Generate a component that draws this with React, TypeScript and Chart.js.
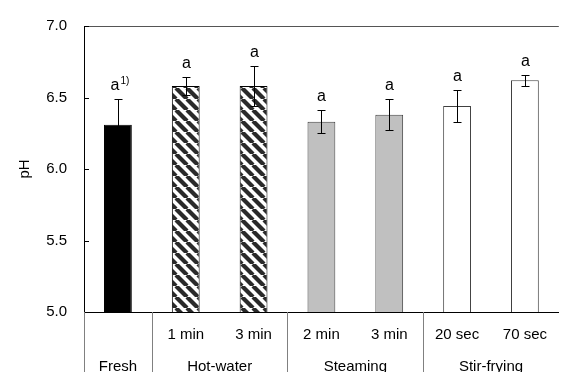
import React, { useEffect, useRef } from "react";
import { Chart, registerables } from "chart.js";

Chart.register(...registerables);

const subLabels = ["", "1 min", "3 min", "2 min", "3 min", "20 sec", "70 sec"];
const groupLabels = ["Fresh", "Hot-water", "Steaming", "Stir-frying"];
const groupStart = [0, 1, 3, 5];
const groupEnd = [0, 2, 4, 6];
const phMeans = [6.31, 6.58, 6.58, 6.33, 6.38, 6.44, 6.62];
const phSD = [0.18, 0.06, 0.14, 0.08, 0.11, 0.11, 0.04];
const letters = ["a", "a", "a", "a", "a", "a", "a"];
const superscripts = ["1)", "", "", "", "", "", ""];
const yTicks = [5.0, 5.5, 6.0, 6.5, 7.0];

const FONT = '"Liberation Sans", Arial, sans-serif';

function makeHatch(): CanvasPattern | string {
  const n = 11;
  const c = document.createElement("canvas");
  c.width = n;
  c.height = n;
  const g = c.getContext("2d");
  if (!g) return "#888";
  g.fillStyle = "#fff";
  g.fillRect(0, 0, n, n);
  g.strokeStyle = "#2a2a2a";
  g.lineWidth = 4.2;
  for (const k of [-n, 0, n]) {
    g.beginPath();
    g.moveTo(k, 0);
    g.lineTo(k + n, n);
    g.stroke();
  }
  const p = g.createPattern(c, "repeat");
  return p || "#888";
}

export default function App() {
  const ref = useRef<HTMLCanvasElement | null>(null);

  useEffect(() => {
    const canvas = ref.current;
    if (!canvas) return;
    const hatch = makeHatch();

    const overlay = {
      id: "overlay",
      afterDatasetsDraw(chart: any) {
        const ctx = chart.ctx;
        const y = chart.scales.y;
        const meta = chart.getDatasetMeta(0);
        ctx.save();
        ctx.strokeStyle = "#000";
        ctx.lineWidth = 1;
        meta.data.forEach((bar: any, i: number) => {
          const x = Math.round(bar.x) + 0.5;
          const yt = Math.round(y.getPixelForValue(phMeans[i] + phSD[i])) + 0.5;
          const yb = Math.round(y.getPixelForValue(phMeans[i] - phSD[i])) + 0.5;
          ctx.beginPath();
          ctx.moveTo(x, yt);
          ctx.lineTo(x, yb);
          ctx.moveTo(x - 4, yt);
          ctx.lineTo(x + 4, yt);
          ctx.moveTo(x - 4, yb);
          ctx.lineTo(x + 4, yb);
          ctx.stroke();
          ctx.fillStyle = "#000";
          ctx.textBaseline = "alphabetic";
          ctx.font = `16px ${FONT}`;
          const by = yt - 10;
          if (superscripts[i]) {
            ctx.textAlign = "right";
            ctx.fillText(letters[i], x + 1, by);
            ctx.font = `10px ${FONT}`;
            ctx.textAlign = "left";
            ctx.fillText(superscripts[i], x + 2, by - 6);
          } else {
            ctx.textAlign = "center";
            ctx.fillText(letters[i], x, by);
          }
        });
        ctx.restore();
      },
      afterDraw(chart: any) {
        const ctx = chart.ctx;
        const area = chart.chartArea;
        const x = chart.scales.x;
        const y = chart.scales.y;
        const H = chart.height;
        ctx.save();
        ctx.strokeStyle = "#555";
        ctx.lineWidth = 1;
        ctx.beginPath();
        ctx.moveTo(Math.round(area.left), Math.round(area.top) + 0.5);
        ctx.lineTo(area.right, Math.round(area.top) + 0.5);
        ctx.stroke();
        ctx.strokeStyle = "#000";
        ctx.beginPath();
        yTicks.forEach((v) => {
          const py = Math.round(y.getPixelForValue(v)) + 0.5;
          ctx.moveTo(Math.round(area.left), py);
          ctx.lineTo(Math.round(area.left) + 5, py);
        });
        ctx.stroke();
        ctx.strokeStyle = "#808080";
        ctx.beginPath();
        const lx = Math.round(area.left) + 0.5;
        ctx.moveTo(lx, area.bottom);
        ctx.lineTo(lx, H);
        groupStart.forEach((s) => {
          if (s === 0) return;
          const px = Math.round((x.getPixelForValue(s) + x.getPixelForValue(s - 1)) / 2) + 0.5;
          ctx.moveTo(px, area.bottom);
          ctx.lineTo(px, H);
        });
        ctx.stroke();
        ctx.fillStyle = "#000";
        ctx.font = `15px ${FONT}`;
        ctx.textAlign = "center";
        ctx.textBaseline = "middle";
        groupLabels.forEach((g, i) => {
          const cx = (x.getPixelForValue(groupStart[i]) + x.getPixelForValue(groupEnd[i])) / 2;
          ctx.fillText(g, cx, area.bottom + 55);
        });
        ctx.restore();
      },
    };

    const chart = new Chart(canvas, {
      type: "bar",
      data: {
        labels: subLabels,
        datasets: [
          {
            data: phMeans,
            backgroundColor: ["#000000", hatch, hatch, "#c0c0c0", "#c0c0c0", "#ffffff", "#ffffff"] as any,
            borderColor: ["#000000", "#000000", "#000000", "#404040", "#404040", "#404040", "#404040"],
            borderWidth: 1,
            barPercentage: 0.41,
            categoryPercentage: 1,
          },
        ],
      },
      options: {
        animation: false,
        responsive: false,
        layout: { padding: { left: 0, top: 20, right: 0, bottom: 0 } },
        plugins: { legend: { display: false }, tooltip: { enabled: false } },
        scales: {
          x: {
            type: "category",
            grid: { display: false, drawTicks: false },
            border: { display: true, color: "#000", width: 1 },
            ticks: {
              font: { family: FONT, size: 15 },
              color: "#000",
              padding: 14,
              maxRotation: 0,
              autoSkip: false,
            },
            afterFit: (s: any) => {
              s.height = 60;
            },
          },
          y: {
            min: 5,
            max: 7,
            grid: { drawOnChartArea: false, drawTicks: false },
            border: { display: true, color: "#000", width: 1 },
            ticks: {
              stepSize: 0.5,
              font: { family: FONT, size: 15 },
              color: "#000",
              padding: 17,
              callback: (v: any) => Number(v).toFixed(1),
            },
            title: {
              display: true,
              text: "pH",
              font: { family: FONT, size: 15 },
              color: "#000",
              padding: { top: 16, bottom: 0 },
            },
            afterFit: (s: any) => {
              s.width = 84;
            },
          },
        },
      },
      plugins: [overlay],
    });

    return () => chart.destroy();
  }, []);

  return (
    <div style={{ position: "absolute", left: 0, top: 0, width: 561, height: 372, background: "#fff" }}>
      <canvas ref={ref} width={561} height={372} style={{ display: "block" }} />
    </div>
  );
}
